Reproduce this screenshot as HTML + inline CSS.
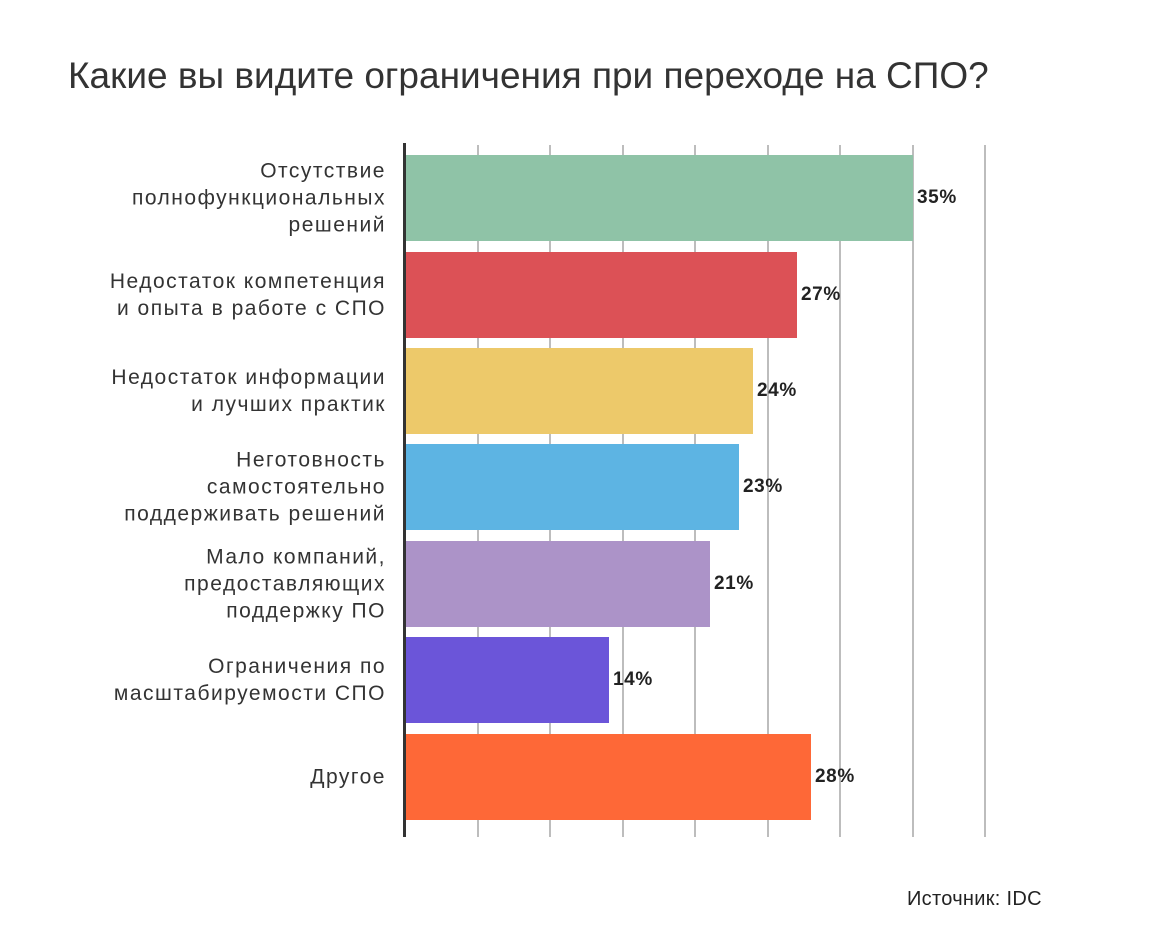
<!DOCTYPE html>
<html><head><meta charset="utf-8"><style>
body{margin:0;background:#fff;width:1171px;height:925px;position:relative;overflow:hidden;font-family:"Liberation Sans",sans-serif}
.a{position:absolute}
.t{left:68px;top:55px;font-size:37px;color:#333;white-space:nowrap}
.g{width:2px;background:#bdbdbd;top:145px;height:692px}
.b{left:406px;height:86px}
.l{right:785px;text-align:right;font-size:21px;letter-spacing:1.5px;line-height:27px;color:#333;transform:translateY(-50%);white-space:nowrap}
.v{font-size:19px;letter-spacing:0.6px;font-weight:bold;color:#222;transform:translateY(-50%)}
</style></head><body>
<div class="a t">Какие вы видите ограничения при переходе на СПО?</div>
<div class="a g" style="left:477px"></div><div class="a g" style="left:549px"></div><div class="a g" style="left:622px"></div><div class="a g" style="left:694px"></div><div class="a g" style="left:767px"></div><div class="a g" style="left:839px"></div><div class="a g" style="left:912px"></div><div class="a g" style="left:984px"></div>
<div class="a b" style="top:155px;width:507px;background:#8fc3a7"></div>
<div class="a b" style="top:252px;width:391px;background:#dc5156"></div>
<div class="a b" style="top:348px;width:347px;background:#edc96a"></div>
<div class="a b" style="top:444px;width:333px;background:#5db4e3"></div>
<div class="a b" style="top:541px;width:304px;background:#ac93c8"></div>
<div class="a b" style="top:637px;width:203px;background:#6b55d9"></div>
<div class="a b" style="top:734px;width:405px;background:#fe6837"></div>
<div class="a" style="left:403px;top:143px;width:3px;height:694px;background:#333"></div>
<div class="a l" style="top:198px">Отсутствие<br>полнофункциональных<br>решений</div>
<div class="a l" style="top:295px">Недостаток компетенция<br>и опыта в работе с СПО</div>
<div class="a l" style="top:391px">Недостаток информации<br>и лучших практик</div>
<div class="a l" style="top:487px">Неготовность<br>самостоятельно<br>поддерживать решений</div>
<div class="a l" style="top:584px">Мало компаний,<br>предоставляющих<br>поддержку ПО</div>
<div class="a l" style="top:680px">Ограничения по<br>масштабируемости СПО</div>
<div class="a l" style="top:777px">Другое</div>
<div class="a v" style="left:917px;top:198px">35%</div>
<div class="a v" style="left:801px;top:295px">27%</div>
<div class="a v" style="left:757px;top:391px">24%</div>
<div class="a v" style="left:743px;top:487px">23%</div>
<div class="a v" style="left:714px;top:584px">21%</div>
<div class="a v" style="left:613px;top:680px">14%</div>
<div class="a v" style="left:815px;top:777px">28%</div>
<div class="a" style="left:907px;top:888px;font-size:20px;letter-spacing:0.3px;color:#222">Источник: IDC</div>
</body></html>
